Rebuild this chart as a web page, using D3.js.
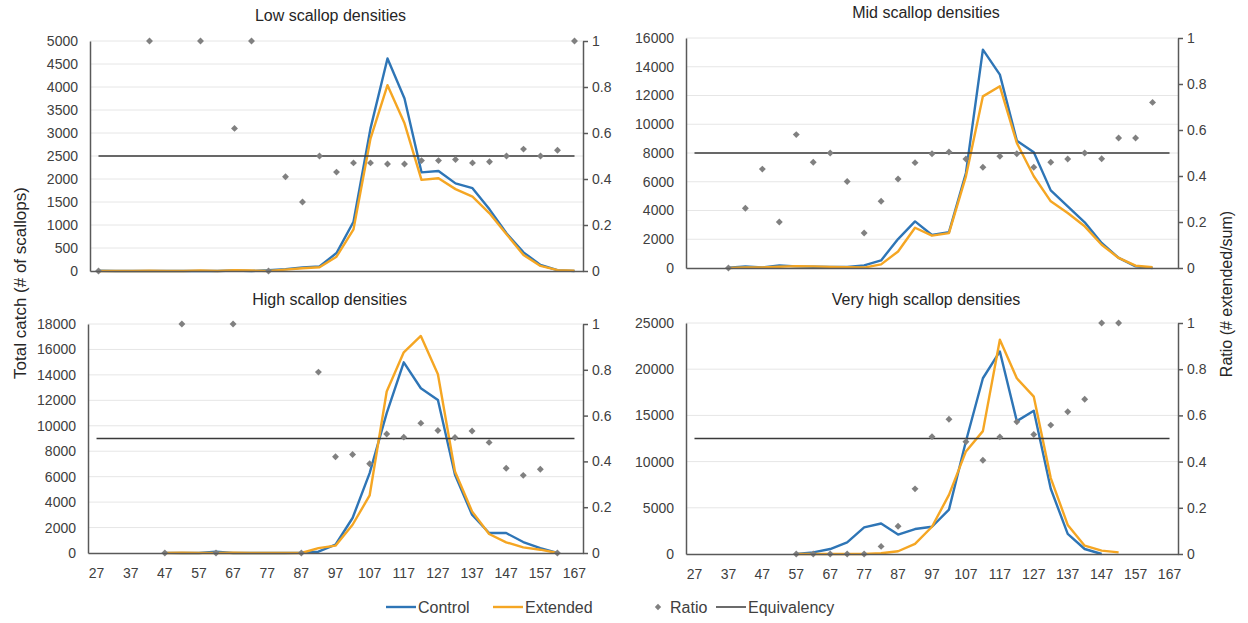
<!DOCTYPE html>
<html lang="en">
<head>
<meta charset="UTF-8">
<script src="https://d3js.org/d3.v7.min.js"></script>
<title>Scallop densities</title>
<style>
  body { margin: 0; background: #fff; }
  text { font-family: "Liberation Sans", Arial, sans-serif; }
</style>
</head>
<body>
<div id="canvas"></div>
<script>
// shell height classes (mm)
const sizes = [27, 32, 37, 42, 47, 52, 57, 62, 67, 72, 77, 82, 87, 92, 97, 102, 107, 112, 117, 122, 127, 132, 137, 142, 147, 152, 157, 162, 167]
const sizeLabels = [27, 37, 47, 57, 67, 77, 87, 97, 107, 117, 127, 137, 147, 157, 167]
const n = null

const lowControl  = [5, 0, 0, 0, 0, 0, 0, 0, 10, 0, 15, 40, 75, 100, 390, 1070, 3100, 4620, 3750, 2145, 2175, 1905, 1800, 1340, 820, 405, 130, 20, 0]
const lowExtended = [0, 0, 0, 5, 0, 0, 10, 0, 16, 10, 0, 30, 60, 80, 310, 905, 2880, 4040, 3210, 1980, 2015, 1780, 1615, 1255, 800, 350, 110, 20, 5]
const lowRatio    = [0, n, n, 1, n, n, 1, n, 0.62, 1, 0, 0.41, 0.30, 0.50, 0.43, 0.47, 0.47, 0.465, 0.465, 0.48, 0.48, 0.485, 0.47, 0.475, 0.50, 0.53, 0.50, 0.525, 1]

const midControl  = [n, n, 20, 115, 46, 185, 115, 90, 70, 70, 185, 530, 2010, 3240, 2300, 2500, 6610, 15190, 13450, 8860, 8050, 5400, 4290, 3180, 1740, 700, 115, 0, n]
const midExtended = [n, n, 0, 40, 30, 90, 130, 110, 80, 60, 30, 250, 1150, 2800, 2250, 2430, 6380, 11940, 12640, 8700, 6380, 4640, 3830, 2900, 1620, 700, 160, 50, n]
const midRatio    = [n, n, 0, 0.26, 0.43, 0.20, 0.58, 0.46, 0.50, 0.376, 0.152, 0.29, 0.387, 0.458, 0.497, 0.504, 0.474, 0.438, 0.486, 0.497, 0.438, 0.46, 0.474, 0.50, 0.475, 0.565, 0.565, 0.72, n]

const highControl  = [n, n, n, n, 10, 0, 0, 100, 0, 0, 0, 0, 20, 100, 650, 2750, 6280, 10990, 14990, 12950, 12030, 6150, 3010, 1570, 1570, 860, 390, 5, n]
const highExtended = [n, n, n, n, 0, 20, 0, 0, 20, 0, 0, 0, 0, 380, 575, 2220, 4525, 12690, 15775, 17060, 14050, 6410, 3270, 1490, 840, 445, 260, 0, n]
const highRatio    = [n, n, n, n, 0, 1, n, 0, 1, n, n, n, 0, 0.79, 0.42, 0.43, 0.39, 0.52, 0.506, 0.567, 0.535, 0.504, 0.533, 0.483, 0.37, 0.339, 0.366, 0, n]

const vhighControl  = [n, n, n, n, n, n, 0, 180, 540, 1260, 2880, 3300, 2100, 2700, 2950, 4800, 12200, 19020, 21920, 14380, 15510, 7065, 2170, 540, 0, n, n, n, n]
const vhighExtended = [n, n, n, n, n, n, 0, 0, 0, 0, 0, 80, 300, 1100, 2950, 6400, 11100, 13300, 23190, 19020, 17030, 8220, 3150, 905, 360, 180, n, n, n]
const vhighRatio    = [n, n, n, n, n, n, 0, 0, 0, 0, 0, 0.033, 0.12, 0.282, 0.508, 0.583, 0.486, 0.406, 0.507, 0.572, 0.517, 0.558, 0.616, 0.67, 1, 1, n, n, n]

const ratioTicks = [0, 0.2, 0.4, 0.6, 0.8, 1]
const equivalency = 0.5

const blue = "#2e75b6", orange = "#f5a623", grey = "#808080", axisCol = "#595959", textCol = "#404040"

const svg = d3.select("#canvas").append("svg").attr("width", 1248).attr("height", 623)

const panels = [
  {title: "Low scallop densities", control: lowControl, extended: lowExtended, ratio: lowRatio,
   yTicks: d3.range(0, 5001, 500), box: {l: 90, r: 583, t: 41, b: 271}, xLabels: false, titleY: 21},
  {title: "Mid scallop densities", control: midControl, extended: midExtended, ratio: midRatio,
   yTicks: d3.range(0, 16001, 2000), box: {l: 686, r: 1178, t: 38, b: 268}, xLabels: false, titleY: 18},
  {title: "High scallop densities", control: highControl, extended: highExtended, ratio: highRatio,
   yTicks: d3.range(0, 18001, 2000), box: {l: 88, r: 583, t: 324, b: 553}, xLabels: true, titleY: 305},
  {title: "Very high scallop densities", control: vhighControl, extended: vhighExtended, ratio: vhighRatio,
   yTicks: d3.range(0, 25001, 5000), box: {l: 686, r: 1178, t: 323, b: 554}, xLabels: true, titleY: 305}
]

panels.forEach(p => {
  const w = p.box.r - p.box.l, h = p.box.b - p.box.t
  const g = svg.append("g").attr("transform", `translate(${p.box.l},${p.box.t})`)

  const x = d3.scaleBand().domain(sizes).range([0, w])
  const cx = d => x(d) + x.bandwidth() / 2
  const y = d3.scaleLinear().domain([0, d3.max(p.yTicks)]).range([h, 0])
  const y2 = d3.scaleLinear().domain([0, 1]).range([h, 0])

  // gridlines
  g.selectAll(".grid").data(p.yTicks.slice(1)).enter().append("line")
    .attr("x1", 0).attr("x2", w)
    .attr("y1", d => y(d)).attr("y2", d => y(d))
    .attr("stroke", "#e6e6e6").attr("stroke-width", 1)

  // lines
  const series = [{vals: p.control, col: blue}, {vals: p.extended, col: orange}]
  series.forEach(s => {
    const pts = sizes.map((c, i) => ({c: c, v: s.vals[i]})).filter(d => d.v !== null)
    g.append("path").datum(pts)
      .attr("fill", "none").attr("stroke", s.col).attr("stroke-width", 2.4)
      .attr("stroke-linejoin", "round")
      .attr("d", d3.line().x(d => cx(d.c)).y(d => y(d.v)))
  })

  // equivalency line
  g.append("line")
    .attr("x1", cx(sizes[0])).attr("x2", cx(sizes[sizes.length - 1]))
    .attr("y1", y2(equivalency)).attr("y2", y2(equivalency))
    .attr("stroke", "#3a3a3a").attr("stroke-width", 1.5)

  // ratio diamonds
  const rpts = sizes.map((c, i) => ({c: c, v: p.ratio[i]})).filter(d => d.v !== null)
  g.selectAll(".ratio").data(rpts).enter().append("path")
    .attr("d", d3.symbol().type(d3.symbolSquare).size(24))
    .attr("transform", d => `translate(${cx(d.c)},${y2(d.v)}) rotate(45)`)
    .attr("fill", grey)

  // axes
  const gy = g.append("g").call(d3.axisLeft(y).tickValues(p.yTicks).tickSize(0).tickPadding(12).tickFormat(d3.format("d")))
  const gy2 = g.append("g").attr("transform", `translate(${w},0)`)
    .call(d3.axisRight(y2).tickValues(ratioTicks).tickSize(5).tickSizeOuter(0).tickPadding(4).tickFormat(d => String(+d.toFixed(1))))
  const xAxis = d3.axisBottom(x).tickValues(p.xLabels ? sizeLabels : []).tickSize(0).tickSizeOuter(0).tickPadding(15)
  const gx = g.append("g").attr("transform", `translate(0,${h})`).call(xAxis)

  ;[gy, gy2, gx].forEach(a => {
    a.select(".domain").attr("stroke", axisCol).attr("stroke-width", 1.5)
    a.selectAll(".tick line").attr("stroke", axisCol).attr("stroke-width", 1.5)
    a.selectAll("text").attr("fill", textCol).style("font-size", "14px").style("font-family", '"Liberation Sans", Arial, sans-serif')
  })

  svg.append("text")
    .attr("x", (p.box.l + p.box.r) / 2 - 6).attr("y", p.titleY)
    .attr("text-anchor", "middle").attr("fill", "#262626")
    .style("font-size", "16px")
    .text(p.title)
})

// axis titles
svg.append("text")
  .attr("transform", "translate(26,283) rotate(-90)")
  .attr("text-anchor", "middle").attr("fill", "#262626")
  .style("font-size", "17px")
  .text("Total catch (# of scallops)")
svg.append("text")
  .attr("transform", "translate(1232,294) rotate(-90)")
  .attr("text-anchor", "middle").attr("fill", "#262626")
  .style("font-size", "16px")
  .text("Ratio (# extended/sum)")

// legend
const legend = svg.append("g").attr("transform", "translate(0,607)")
const legItems = [
  {label: "Control", x: 386, type: "line", col: blue, sw: 2.4},
  {label: "Extended", x: 493, type: "line", col: orange, sw: 2.4},
  {label: "Ratio", x: 646, type: "dot", col: grey},
  {label: "Equivalency", x: 716, type: "line", col: "#3a3a3a", sw: 1.5}
]
legItems.forEach(it => {
  if (it.type === "line") {
    legend.append("line").attr("x1", it.x).attr("x2", it.x + 30).attr("y1", 0).attr("y2", 0)
      .attr("stroke", it.col).attr("stroke-width", it.sw)
  } else {
    legend.append("path").attr("d", d3.symbol().type(d3.symbolSquare).size(20))
      .attr("transform", `translate(${it.x + 12},0) rotate(45)`).attr("fill", it.col)
  }
  legend.append("text").attr("x", it.type === "line" ? it.x + 32 : it.x + 24).attr("y", 5.5)
    .attr("fill", textCol).style("font-size", "16px").text(it.label)
})
</script>
</body>
</html>
